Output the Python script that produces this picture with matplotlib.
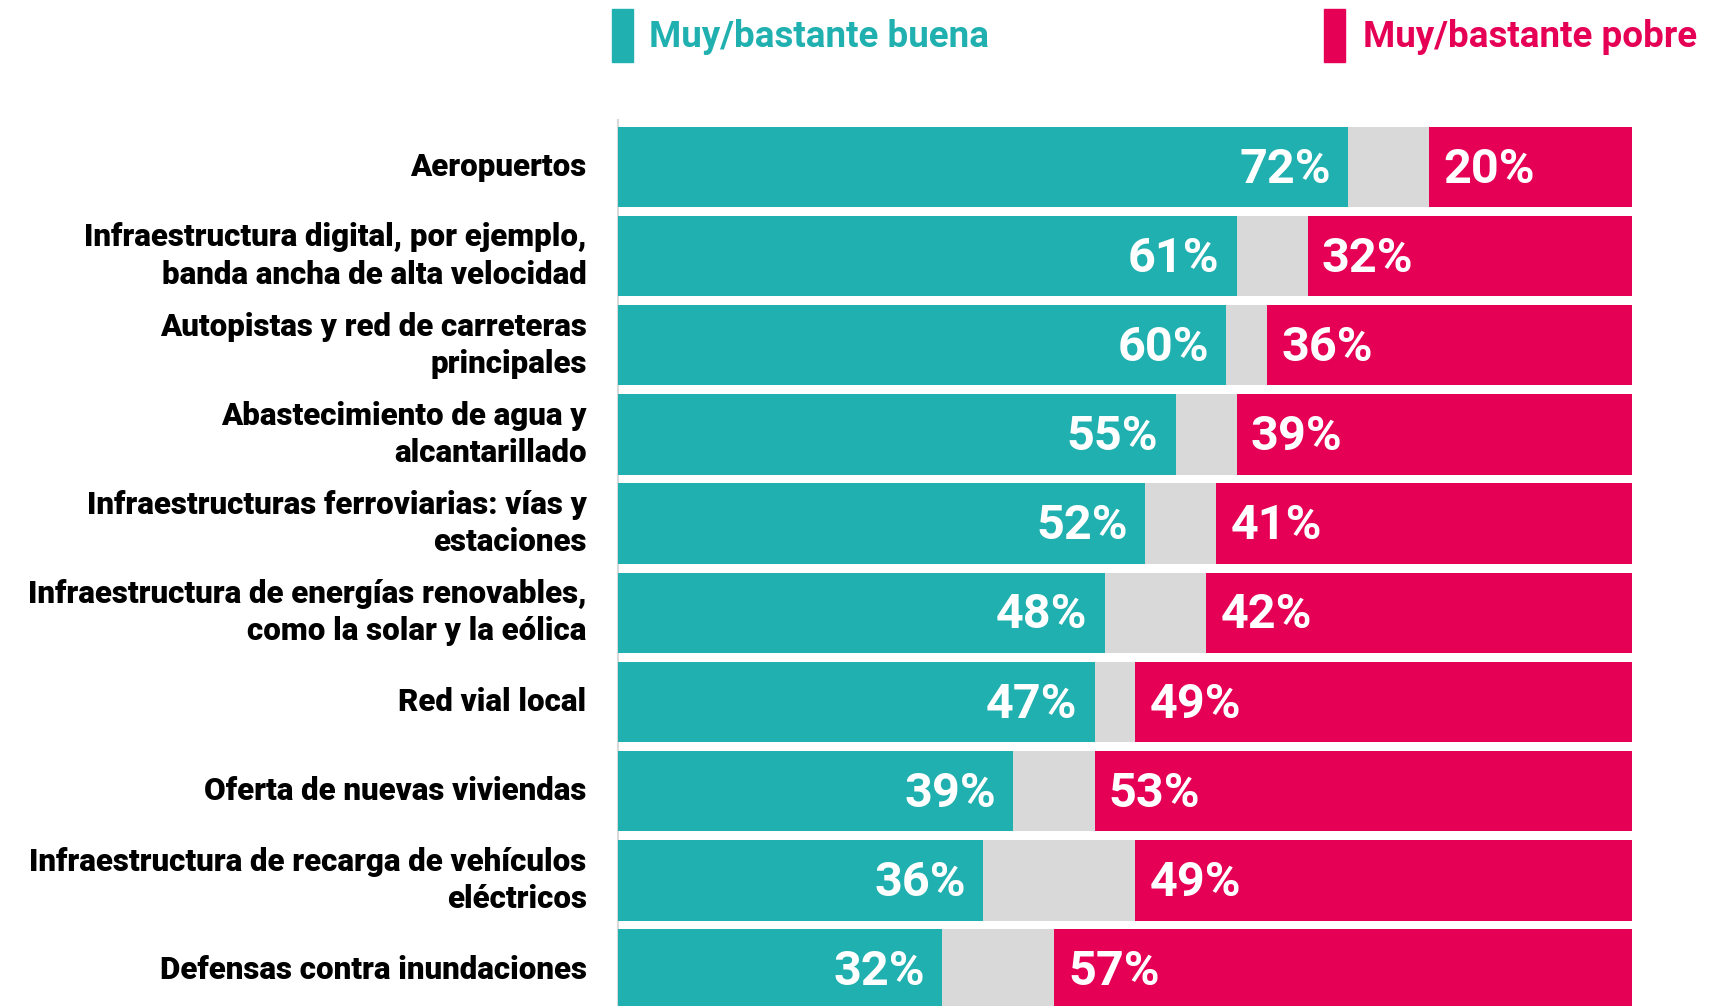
import matplotlib.pyplot as plt
from matplotlib.patches import Rectangle
from matplotlib.transforms import blended_transform_factory

# datos de la encuesta
categorias = [
    "Aeropuertos",
    "Infraestructura digital, por ejemplo,\nbanda ancha de alta velocidad",
    "Autopistas y red de carreteras\nprincipales",
    "Abastecimiento de agua y\nalcantarillado",
    "Infraestructuras ferroviarias: vías y\nestaciones",
    "Infraestructura de energías renovables,\ncomo la solar y la eólica",
    "Red vial local",
    "Oferta de nuevas viviendas",
    "Infraestructura de recarga de vehículos\neléctricos",
    "Defensas contra inundaciones",
]
buena = [72, 61, 60, 55, 52, 48, 47, 39, 36, 32]
pobre = [20, 32, 36, 39, 41, 42, 49, 53, 49, 57]

TEAL = "#1fb0af"
ROJO = "#e50056"
GRIS = "#d9d9d9"

plt.rcParams['font.family'] = ['Roboto', 'DejaVu Sans']

fig = plt.figure(figsize=(17.26, 10.06), dpi=100)
ax = fig.add_axes([0.3578, 0.0, 0.5880, 0.8807])

y = list(range(len(categorias)))
alto = 0.9
resto = [100 - b - p for b, p in zip(buena, pobre)]
ax.barh(y, buena, height=alto, color=TEAL)
ax.barh(y, resto, left=buena, height=alto, color=GRIS)
ax.barh(y, pobre, left=[100 - p for p in pobre], height=alto, color=ROJO)

ax.set_xlim(0, 100)
ax.set_ylim(9.408, -0.525)

for i in y:
    ax.text(buena[i] - 1.7, i + 0.03, f"{buena[i]}%", ha='right', va='center',
            color='white', fontsize=35, fontweight='bold')
    ax.text(100 - pobre[i] + 1.4, i + 0.03, f"{pobre[i]}%", ha='left', va='center',
            color='white', fontsize=35, fontweight='bold')

trans = blended_transform_factory(ax.transAxes, ax.transData)
for i, cat in enumerate(categorias):
    ax.text(-0.0305, i, cat, transform=trans, ha='right', va='center',
            multialignment='right', fontsize=22.5, fontweight='heavy',
            linespacing=1.3, color='black')

ax.set_xticks([])
ax.set_yticks([])
for s in ['top', 'right', 'bottom']:
    ax.spines[s].set_visible(False)
ax.spines['left'].set_color(GRIS)
ax.spines['left'].set_linewidth(1.5)
ax.spines['left'].set_zorder(0)

# leyenda arriba
fig.add_artist(Rectangle((0.3546, 0.9384), 0.0122, 0.0527, color=TEAL,
                         transform=fig.transFigure))
fig.text(0.376, 0.963, "Muy/bastante buena", color=TEAL, fontsize=26.5,
         fontweight='bold', va='center', ha='left')
fig.add_artist(Rectangle((0.7671, 0.9384), 0.0122, 0.0527, color=ROJO,
                         transform=fig.transFigure))
fig.text(0.7897, 0.963, "Muy/bastante pobre", color=ROJO, fontsize=26.5,
         fontweight='bold', va='center', ha='left')

fig.savefig("out.png", dpi=100)
